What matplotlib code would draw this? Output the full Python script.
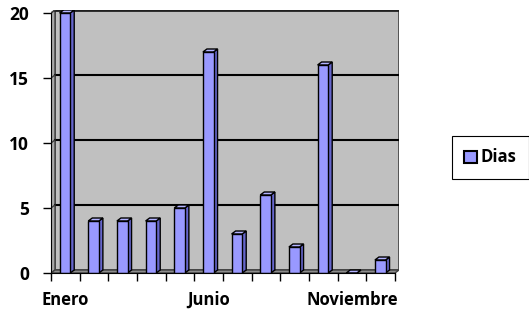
import numpy as np
import matplotlib.pyplot as plt
from matplotlib.patches import Polygon, Rectangle, Patch

months = ["Enero", "Febrero", "Marzo", "Abril", "Mayo", "Junio", "Julio",
          "Agosto", "Septiembre", "Octubre", "Noviembre", "Diciembre"]
dias = [20, 4, 4, 4, 5, 17, 3, 6, 2, 16, 0, 1]
shown_labels = {0: "Enero", 5: "Junio", 10: "Noviembre"}
yticks = [0, 5, 10, 15, 20]

plt.rcParams['font.family'] = ['Open Sans', 'DejaVu Sans']

W, H = 529, 312
fig = plt.figure(figsize=(W / 100, H / 100), dpi=100)
ax = fig.add_axes([51 / W, (H - 273) / H, (399 - 51) / W, (273 - 10) / H])

n = len(months)
dx, dy = 0.14, 0.23   # depth offset of the 3d look (data units)
ymax = 20
ax.set_xlim(-0.5, n - 0.5 + dx)
ax.set_ylim(0, ymax + dy)
ax.set_facecolor('none')

x0, x1 = -0.5, n - 0.5
# back wall, left wall, floor
ax.add_patch(Rectangle((x0 + dx, dy), n, ymax, fc='#C0C0C0', ec='#404040', lw=1.2, zorder=0))
ax.add_patch(Polygon([(x0, 0), (x0 + dx, dy), (x0 + dx, ymax + dy), (x0, ymax)],
                     closed=True, fc='#A8A8A8', ec='#404040', lw=1.0, zorder=0.5))
ax.add_patch(Polygon([(x0, 0), (x1, 0), (x1 + dx, dy), (x0 + dx, dy)],
                     closed=True, fc='#8C8C8C', ec='#404040', lw=1.0, zorder=0.5))
ax.plot([x0 + dx, x1 + dx], [ymax + dy, ymax + dy], color='#202020', lw=2, zorder=1)
for v in yticks[1:-1]:
    ax.plot([x0 + dx, x1 + dx], [v + dy, v + dy], color='black', lw=1.5, zorder=1)
for v in yticks[1:]:
    ax.plot([x0, x0 + dx], [v, v + dy], color='#404040', lw=1.0, zorder=1)

# bars drawn as 3d columns
bw = 0.37
for i, v in enumerate(dias):
    left = i - 0.2
    front = Rectangle((left, 0), bw, v, fc='#9999FF', ec='black', lw=1.0, zorder=3)
    side = Polygon([(left + bw, 0), (left + bw + dx, dy), (left + bw + dx, v + dy), (left + bw, v)],
                   closed=True, fc='#6666CC', ec='black', lw=1.0, zorder=3)
    top = Polygon([(left, v), (left + dx, v + dy), (left + bw + dx, v + dy), (left + bw, v)],
                  closed=True, fc='#B3B3FF', ec='black', lw=1.0, zorder=3)
    for p in (side, top, front):
        ax.add_patch(p)

for s in ['top', 'right']:
    ax.spines[s].set_visible(False)
ax.spines['left'].set_bounds(0, ymax)
ax.spines['bottom'].set_bounds(x0, x1)
ax.spines['left'].set_zorder(4)
ax.spines['bottom'].set_zorder(4)

ax.set_yticks(yticks)
ax.tick_params(axis='y', length=6, width=1, pad=10, labelsize=12.5)
for lab in ax.get_yticklabels():
    lab.set_fontweight('bold')

ax.set_xticks(np.arange(n + 1) - 0.5)
ax.set_xticklabels([])
ax.tick_params(axis='x', which='major', length=6, width=1)
ax.set_xticks(list(shown_labels.keys()), minor=True)
ax.set_xticklabels(list(shown_labels.values()), minor=True, fontweight='bold', fontsize=12)
ax.tick_params(axis='x', which='minor', length=0, pad=13)

leg = fig.legend(handles=[Patch(fc='#9999FF', ec='black', lw=1.5)], labels=['Dias'],
                 loc='center', bbox_to_anchor=(490.5 / W, 1 - 157.5 / H),
                 fancybox=False, framealpha=1, edgecolor='black',
                 prop={'weight': 'bold', 'size': 12},
                 handlelength=0.75, handleheight=0.75, handletextpad=0.25,
                 borderpad=0.75, borderaxespad=0)
leg.get_frame().set_linewidth(0.8)

fig.savefig('out.png', dpi=100)
